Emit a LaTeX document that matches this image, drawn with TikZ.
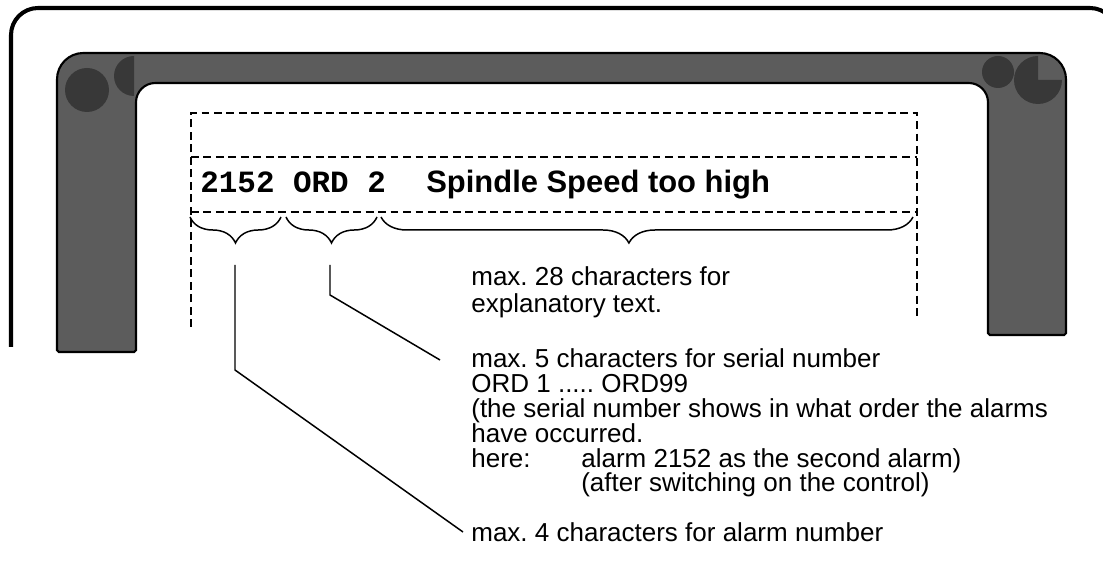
\documentclass[tikz,border=0pt]{standalone}
\usepackage{fontspec}
\setmainfont{Liberation Sans}
\setmonofont{Liberation Mono}
\usetikzlibrary{decorations.pathreplacing}
\begin{document}
\frenchspacing
\begin{tikzpicture}[x=0.02cm,y=-0.02cm,
  bezel/.style={fill=black!64, draw=black, line width=1.2pt},
  spot/.style={fill=black!78},
  dashline/.style={line width=1.1pt, dash pattern=on 4.5pt off 2.6pt},
  brace/.style={decorate, decoration={brace, mirror, amplitude=14.8pt}, line width=0.85pt},
  leader/.style={line width=0.85pt},
  note/.style={anchor=base west, inner sep=0pt, align=left, font=\fontsize{14.8}{14.2}\selectfont}]
\useasboundingbox (0,0) rectangle (1103,573);
\clip (0,0) rectangle (1103,573);
% housing and screen bezel
\draw[line width=2.3pt, rounded corners=15.4pt] (11,347) -- (11,8) -- (1117,8) -- (1117,347);
\draw[bezel] (57,352) [rounded corners=15pt] -- (57,53) -- (1066,53) [rounded corners=1pt] -- (1066,335) -- (988,335) [rounded corners=11pt] -- (988,83) -- (136,83) [rounded corners=1pt] -- (136,352) -- cycle;
\fill[spot] (87,90) circle[radius=22];
\fill[spot] (134,76) -- (134,96) arc[start angle=90, end angle=270, radius=20] -- cycle;
\fill[spot] (998,72) circle[radius=16];
\fill[spot] (1038,80) -- (1062,80) arc[start angle=0, end angle=270, radius=24] -- cycle;
% display lines
\draw[dashline] (191,327) -- (191,113) -- (917,113) -- (917,318);
\draw[dashline] (191,157) -- (917,157);
\draw[dashline] (191,212) -- (917,212);
\node[anchor=base west, inner sep=0pt, font=\ttfamily\bfseries\fontsize{17.6}{20}\selectfont] (code) at (200,193) {2152 ORD 2};
\node[anchor=base west, inner sep=0pt, font=\bfseries\fontsize{17.6}{20}\selectfont] (msg) at (426,193) {Spindle Speed too high};
% braces
\draw[brace] (190,217) -- (281,217);
\draw[brace] (286,217) -- (377,217);
\draw[brace, decoration={aspect=0.466}] (381,217) -- (913,217);
% notes (base = last line)
\node[note, font=\fontsize{14.8}{15.9}\selectfont] (expl) at (471,313) {max. 28 characters for\\explanatory text.};
\node[note] (serial) at (471,492) {max. 5 characters for serial number\\ORD 1 ..... ORD99\\(the serial number shows in what order the alarms\\have occurred.\\\makebox[62.6pt][l]{here:}alarm 2152 as the second alarm)\\\hspace*{62.6pt}(after switching on the control)};
\node[note] (alarm) at (471,542) {max. 4 characters for alarm number};
\coordinate (numtop) at (235,265);
\coordinate (numbend) at (235,370);
\coordinate (numend) at (463,532);
\coordinate (ordtop) at (330,265);
\coordinate (ordbend) at (330,295);
\coordinate (ordend) at (440,360);
\draw[leader] (numtop) -- (numbend) -- (numend);
\draw[leader] (ordtop) -- (ordbend) -- (ordend);
\end{tikzpicture}
\end{document}
